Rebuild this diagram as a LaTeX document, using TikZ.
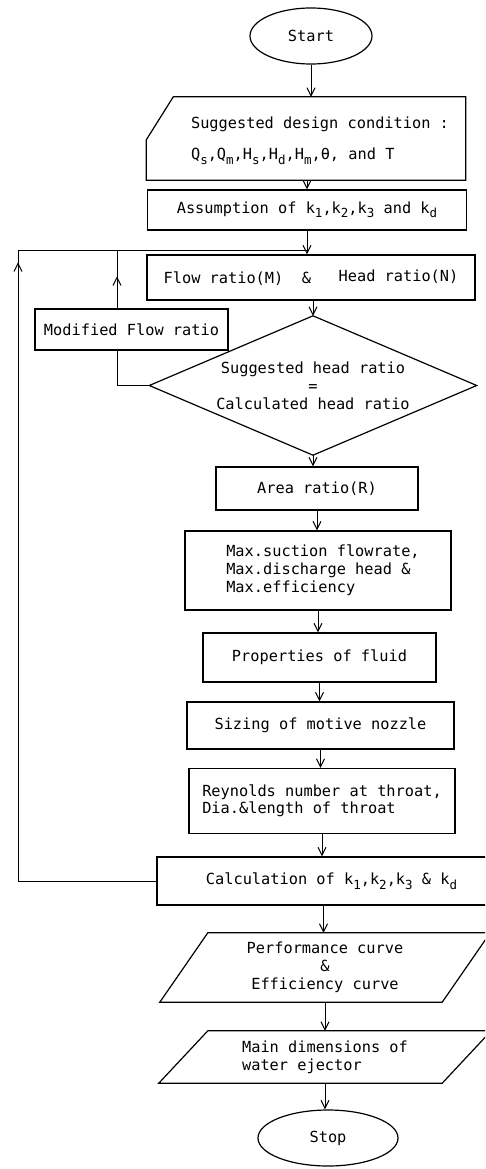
\documentclass[tikz,border=0pt]{standalone}
\usepackage{fontspec}
\usepackage{tikz}
\usetikzlibrary{arrows.meta,shapes.geometric,decorations.markings}
\newfontfamily\monofam{DejaVu Sans Mono}
\newcommand{\lo}[1]{\raisebox{-4.5pt}{\fontsize{12.5}{12.5}\selectfont #1}}
\tikzset{
  txt/.style={align=center, inner sep=0pt, font={\monofam\fontsize{15.3}{19}\selectfont}},
  box/.style={txt, draw, line width=1.2pt},
  pbox/.style={box, rectangle},
  term/.style={box, ellipse},
  shell/.style={txt, rectangle},
  outline/.style={line width=1.2pt, line join=miter},
  flow/.style={-{Straight Barb[length=8pt,width=8pt]}, line width=1pt},
  back/.style={line width=1pt, postaction={decorate},
    decoration={markings, mark=at position #1 with {\arrow{Straight Barb[length=8pt,width=8pt]}}}},
}

\begin{document}
\begin{tikzpicture}[x=1pt, y=-1pt]
\useasboundingbox (0,0) rectangle (485,1169);
\clip (0,0) rectangle (485,1169);

% main column
\node[term, minimum width=122pt, minimum height=56pt] (start) at (311,36) {Start};
\node[shell, minimum width=319pt, minimum height=83pt] (inp) at (306,138.5) {};
\node[txt, align=left] (inptxt) at (320,141) {Suggested design condition :\\[12pt]
  Q\lo{s},Q\lo{m},H\lo{s},H\lo{d},H\lo{m},θ, and T};
\node[pbox, minimum width=319pt, minimum height=40pt] (asm) at (307,210)
  {Assumption of k\lo{1},k\lo{2},k\lo{3} and k\lo{d}};
\node[pbox, minimum width=328pt, minimum height=45pt] (flow) at (311,277.5)
  {Flow ratio(M)~~\&~~~\raisebox{2pt}{Head ratio(N)}};
\node[shell, minimum width=327pt, minimum height=139pt] (dia) at (313,385.5)
  {Suggested head ratio\\[-1pt] =\\[-1pt] Calculated head ratio};
\node[pbox, minimum width=193pt, minimum height=41pt] (mod) at (131.5,329.5) {Modified Flow ratio};
\node[pbox, minimum width=202pt, minimum height=43pt] (area) at (317,488.5) {Area ratio(R)};
\node[pbox, minimum width=266pt, minimum height=79pt, align=left] (maxb) at (318,570.5)
  {\hspace*{10pt}Max.suction flowrate,\\[-1pt]\hspace*{10pt}Max.discharge head \&\\[-1pt]\hspace*{10pt}Max.efficiency};
\node[pbox, minimum width=233pt, minimum height=49pt] (prop) at (319.5,657.5) {Properties of fluid};
\node[pbox, minimum width=267pt, minimum height=47pt] (size) at (320.5,725.5) {Sizing of motive nozzle};
\node[pbox, minimum width=266pt, minimum height=65pt, align=left] (reyn) at (322,801)
  {Reynolds number at throat,\\[-2pt]Dia.\&length of throat};
\node[pbox, minimum width=333pt, minimum height=48pt] (calc) at (323.5,881)
  {\hspace*{16pt}Calculation of k\lo{1},k\lo{2},k\lo{3} \& k\lo{d}};
\node[shell, minimum width=282pt, minimum height=69pt] (perf) at (325,967.5)
  {Performance curve\\[-1pt]\&\\[-1pt]Efficiency curve};
\node[shell, minimum width=283pt, minimum height=52pt, align=left] (mdim) at (325,1057)
  {Main dimensions of\\[-1pt]water ejector};
\node[term, minimum width=140pt, minimum height=56pt] (stop) at (328,1138) {Stop};

% shapes drawn round their nodes
\draw[outline] ([xshift=27pt]inp.north west) -- (inp.north east) -- (inp.south east)
  -- (inp.south west) -- ([yshift=-43pt]inp.north west) -- cycle;
\draw[outline] (dia.west) -- (dia.north) -- (dia.east) -- (dia.south) -- cycle;
\draw[outline] ([xshift=-24pt]perf.south west) -- ([xshift=24pt]perf.north west)
  -- ([xshift=24pt]perf.north east) -- ([xshift=-24pt]perf.south east) -- cycle;
\draw[outline] ([xshift=-24.5pt]mdim.south west) -- ([xshift=24.5pt]mdim.north west)
  -- ([xshift=24.5pt]mdim.north east) -- ([xshift=-24.5pt]mdim.south east) -- cycle;

% connectors
\coordinate (jn) at (asm.south |- 0,250);
\draw[flow] (start) -- (start |- inp.north);
\draw[flow] (inp.south -| asm.north) -- (asm.north);
\draw[flow] (asm.south) -- (asm.south |- flow.north);
\draw[flow] (flow.south -| dia.north) -- (dia.north);
\draw[flow] (dia.south) -- (dia.south |- area.north);
\draw[flow] (area.south) -- (area.south |- maxb.north);
\draw[flow] (maxb.south) -- (maxb.south |- prop.north);
\draw[flow] (prop.south) -- (prop.south |- size.north);
\draw[flow] (size.south) -- (size.south |- reyn.north);
\draw[flow] (reyn.south) -- (reyn.south |- calc.north);
\draw[flow] (calc.south) -- (calc.south |- perf.north);
\draw[flow] (perf.south) -- (perf.south |- mdim.north);
\draw[flow] (mdim.south) -- (mdim.south |- stop.north);

% loops back to the flow ratio box
\draw[line width=1pt] (dia.west) -| ([xshift=-14.5pt]mod.south);
\draw[back=32pt] ([xshift=-14.5pt]mod.north) |- (jn);
\draw[back=757pt] (calc.west) -| (18,250) -- (jn);
\end{tikzpicture}
\end{document}
